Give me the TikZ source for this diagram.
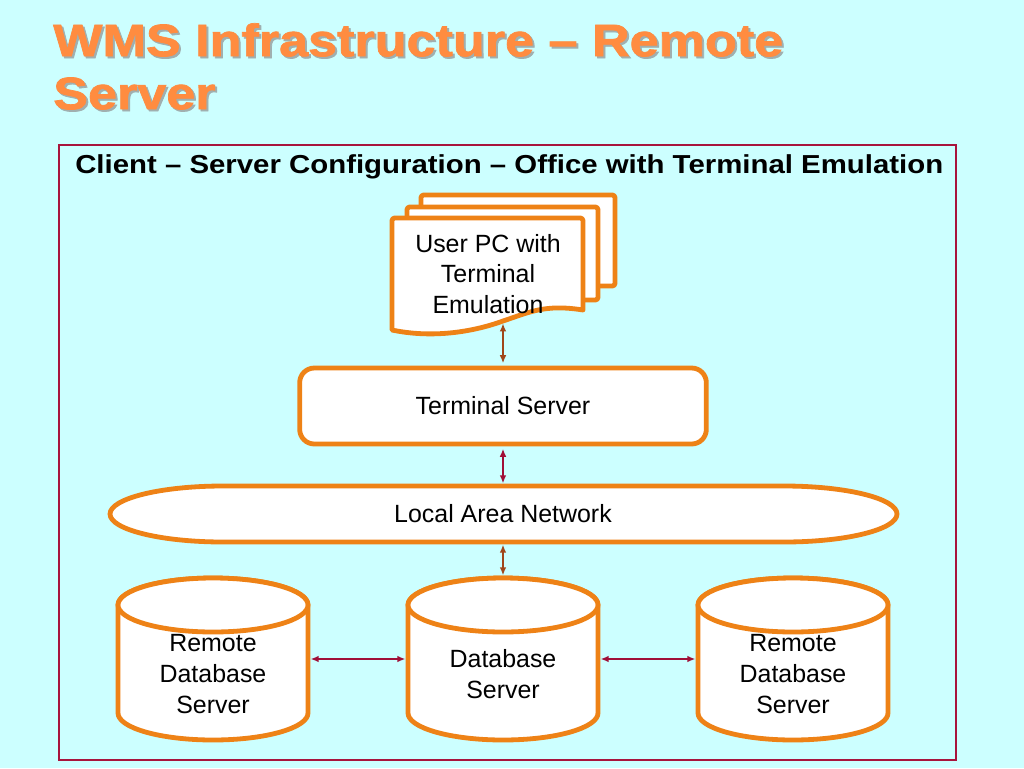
\documentclass[tikz,border=0pt]{standalone}
\usepackage{fontspec}
\setmainfont{Liberation Sans}
\newfontfamily\titlefont{Liberation Sans Bold}[FakeBold=1.6, FakeStretch=1.15]
\newfontfamily\subfont{Liberation Sans Bold}[FakeStretch=1.13]
\usetikzlibrary{arrows.meta}

\definecolor{slidecyan}{RGB}{204,255,255}
\definecolor{boxorange}{RGB}{238,130,22}
\definecolor{titleorange}{RGB}{255,140,64}
\definecolor{titleshade}{RGB}{160,175,175}
\definecolor{framered}{RGB}{168,20,60}
\definecolor{linkbrown}{RGB}{160,70,25}
\definecolor{linkred}{RGB}{160,15,55}

\tikzset{
  outline/.style={draw=boxorange, line width=3.6pt, fill=white, line join=round},
  boxtext/.style={font=\fontsize{18.7}{23}\selectfont, align=center, inner sep=0pt},
  dbbox/.style={minimum width=142.5pt, minimum height=121.5pt, inner sep=0pt},
  headline/.style={font=\titlefont\fontsize{34}{39.75}\selectfont, align=left, anchor=north west, inner sep=0pt},
  link/.style={{Latex[length=6pt,width=5pt]}-{Latex[length=6pt,width=5pt]}, line width=1.1pt, shorten >=1.8pt, shorten <=1.8pt},
}

\begin{document}
\begin{tikzpicture}[x=0.75pt, y=-0.75pt]
    \fill[slidecyan] (0,0) rectangle (1024,768);
    \useasboundingbox (0,0) rectangle (1024,768);

    % title
    \node [headline, titleshade] (shade) at (55,25) {WMS Infrastructure – Remote\\Server};
    \node [headline, titleorange] (title) at (53,23) {WMS Infrastructure – Remote\\Server};

    % frame
    \draw [framered, line width=1.9pt] (59,145) rectangle (956,760);
    \node [font=\subfont\fontsize{19.5}{23}\selectfont, anchor=base west, inner sep=0pt] (config) at (75,173) {Client – Server Configuration – Office with Terminal Emulation};

    % user pc stack
    \draw [outline, rounded corners=2pt] (421,195) rectangle (615,286);
    \draw [outline, rounded corners=2pt] (407,207) rectangle (598,300);
    \draw [outline] (392,330) [rounded corners=2pt] -- (392,218) -- (583,218) [sharp corners] -- (583,310)
        .. controls (545,304) and (530,312) .. (503,321)
        .. controls (470,333) and (430,338) .. (392,330) -- cycle;
    \node [boxtext] (pc) at (488,274) {User PC with\\Terminal\\Emulation};
    \coordinate (pcfoot) at (503,321);

    % terminal server
    \node [outline, boxtext, rounded corners=11pt, minimum width=305pt, minimum height=57pt] (ts) at (503,406) {Terminal Server};

    % local area network
    \draw [outline] (223,486) -- (784,486) arc [start angle=90, end angle=-90, x radius=84.75pt, y radius=21pt]
        -- (223,542) arc [start angle=270, end angle=90, x radius=84.75pt, y radius=21pt] -- cycle;
    \node [boxtext, minimum width=590pt, minimum height=42pt] (lan) at (503,514) {Local Area Network};

    % database servers
    \foreach \cx/\nm/\txt in {213/rdbl/{Remote\\Database\\Server}, 503/db/{Database\\Server}, 793/rdbr/{Remote\\Database\\Server}} {
        \draw [outline] (\cx-95,605) -- (\cx-95,713) arc [start angle=180, end angle=360, x radius=71.25pt, y radius=20.25pt]
            -- (\cx+95,605) arc [start angle=0, end angle=180, x radius=71.25pt, y radius=20.25pt] -- cycle;
        \draw [outline] (\cx,605) ellipse [x radius=71.25pt, y radius=20.25pt];
        \node [dbbox] (\nm) at (\cx,659) {};
        \node [boxtext] (\nm-text) at (\cx,674) {\txt};
    }

    % links
    \draw [link, linkbrown] (pcfoot) -- (ts.north);
    \draw [link, linkred] (ts.south) -- (lan.north);
    \draw [link, linkbrown] (lan.south) -- (db.north);
    \draw [link, linkred] (rdbl.east) -- (db.west);
    \draw [link, linkred] (db.east) -- (rdbr.west);
\end{tikzpicture}
\end{document}
